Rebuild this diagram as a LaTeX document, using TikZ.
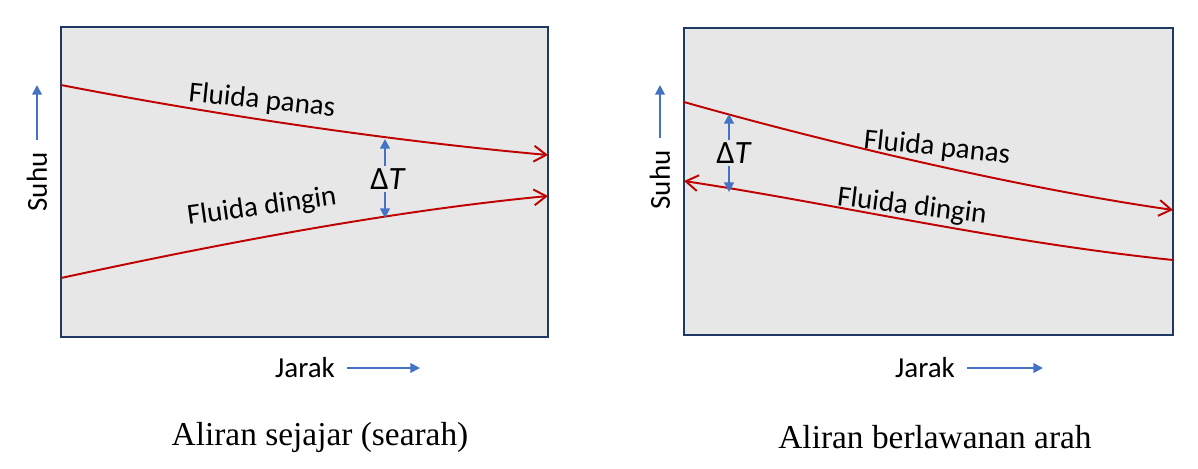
\documentclass[tikz,border=0pt]{standalone}
\usepackage{fontspec}
\setmainfont{Carlito}
\newfontfamily\capfont{Liberation Serif}
\usetikzlibrary{arrows.meta}
\definecolor{boxgray}{RGB}{231,231,231}
\definecolor{boxblue}{RGB}{31,56,100}
\definecolor{flowred}{RGB}{192,0,0}
\definecolor{axisblue}{RGB}{68,114,196}
\tikzset{
  panel/.style={draw=boxblue,fill=boxgray,line width=1.2pt},
  flow/.style={flowred,line width=1.1pt,-{Straight Barb[length=7pt,width=9pt]}},
  axis/.style={axisblue,line width=1pt,-{Triangle[length=5.5pt,width=5.5pt]}},
  dt/.style={axisblue,line width=1.4pt,-{Triangle[length=5.5pt,width=5.5pt]}},
  lbl/.style={font=\fontsize{16.5}{18}\selectfont,inner sep=0pt},
  dtlbl/.style={font=\fontsize{18.5}{20}\selectfont,inner sep=0pt},
  captext/.style={font=\capfont\fontsize{19}{22}\selectfont,inner sep=0pt}
}
\begin{document}
\begin{tikzpicture}[x=0.02cm,y=-0.02cm]
    \useasboundingbox (0,0) rectangle (1198,468);
    % searah
    \draw[panel] (61,27) rectangle (548,337);
    \draw[flow] (61,85) .. controls (200,112) and (380,140) .. (548,155);
    \draw[flow] (61,278) .. controls (200,248) and (380,212) .. (548,196);
    \node[lbl,rotate=-6] (panasA) at (262,101) {Fluida panas};
    \node[lbl,rotate=8] (dinginA) at (262,207) {Fluida dingin};
    \node[dtlbl] (dtA) at (388,179) {Δ\textit{T}};
    \coordinate (hotA) at (385,139);
    \coordinate (coldA) at (385,218);
    \draw[dt] (dtA.north -| hotA) ++(0,-2) -- (hotA);
    \draw[dt] (dtA.south -| coldA) ++(0,2) -- (coldA);
    \node[lbl,rotate=90] (suhuA) at (37,182) {Suhu};
    \draw[axis] (suhuA.east) ++(0,-12) -- (37,85);
    \node[lbl] (jarakA) at (305,368) {Jarak};
    \draw[axis] (jarakA.east) ++(12,0) -- (420,368);
    \node[captext] (capA) at (320,437) {Aliran sejajar (searah)};
    % berlawanan arah
    \draw[panel] (684,28) rectangle (1173,335);
    \draw[flow] (684,102) .. controls (800,135) and (1000,185) .. (1173,210);
    \draw[flow] (1173,260) .. controls (1000,242) and (830,203) .. (684,181);
    \node[lbl,rotate=-6] (panasB) at (937,148) {Fluida panas};
    \node[lbl,rotate=-7] (dinginB) at (912,207) {Fluida dingin};
    \node[dtlbl] (dtB) at (734,153) {Δ\textit{T}};
    \coordinate (hotB) at (729,114);
    \coordinate (coldB) at (729,192);
    \draw[dt] (dtB.north -| hotB) ++(0,-2) -- (hotB);
    \draw[dt] (dtB.south -| coldB) ++(0,2) -- (coldB);
    \node[lbl,rotate=90] (suhuB) at (660,180) {Suhu};
    \draw[axis] (suhuB.east) ++(0,-12) -- (660,85);
    \node[lbl] (jarakB) at (925,368) {Jarak};
    \draw[axis] (jarakB.east) ++(12,0) -- (1043,368);
    \node[captext] (capB) at (935,437) {Aliran berlawanan arah};
\end{tikzpicture}
\end{document}
